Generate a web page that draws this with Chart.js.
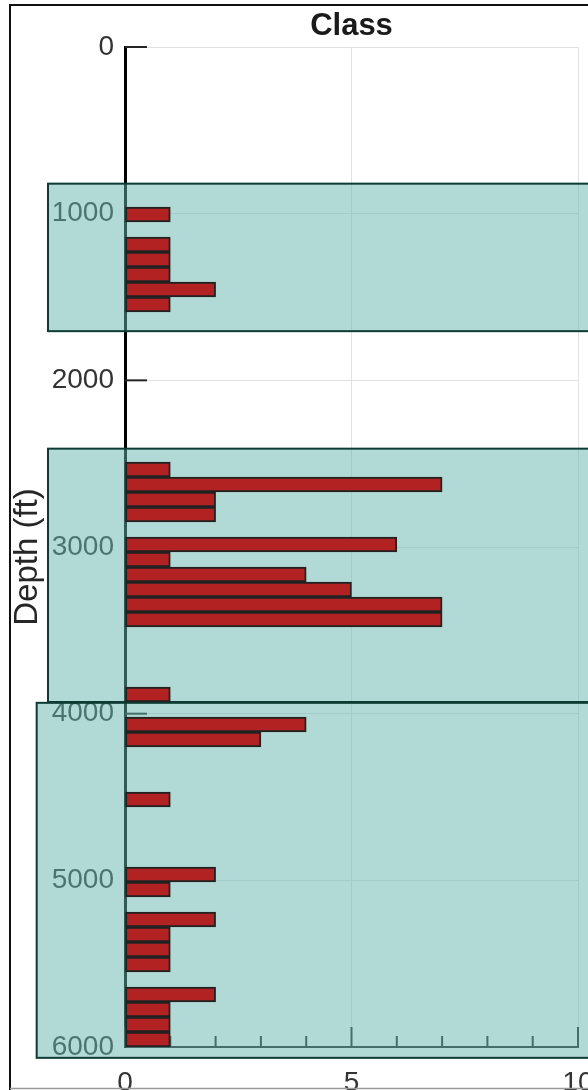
<!DOCTYPE html>
<html>
<head>
<meta charset="utf-8">
<script src="https://cdn.jsdelivr.net/npm/chart.js@4.4.1/dist/chart.umd.min.js"></script>
<style>
  html, body { margin: 0; padding: 0; background: #fff; }
  canvas { display: block; }
</style>
</head>
<body>
<canvas id="depthChart" width="588" height="1090"></canvas>
<script>
// histogram: bin centre depth (ft) and count per bin
const depthBins = [1005, 1185, 1275, 1365, 1455, 1545,
  2535, 2625, 2715, 2805, 2985, 3075, 3165, 3255, 3345, 3435,
  3885, 4065, 4155, 4515, 4965, 5055, 5235, 5325, 5415, 5505,
  5685, 5775, 5865, 5955];
const classCounts = [1, 1, 1, 1, 2, 1,
  1, 7, 2, 2, 6, 1, 4, 5, 7, 7,
  1, 4, 3, 1, 2, 1, 2, 1, 1, 1,
  2, 1, 1, 1];

const depthTicks = [0, 1000, 2000, 3000, 4000, 5000, 6000];
const classTicks = [0, 5, 10];
const classMinorTicks = [1, 2, 3, 4, 6, 7, 8, 9];

// shaded depth intervals (depth in ft, class units for the sides)
const zoneTop = [820, 2410, 3935];
const zoneBottom = [1705, 3930, 6065];
const zoneLeft = [-1.7, -1.7, -1.95];
const zoneRight = [11, 11, 11];

const FONT = "'Liberation Sans', Arial, Helvetica, sans-serif";

const decorations = {
  id: "decorations",
  beforeDatasetsDraw(chart) {
    const { ctx, scales: { x, y } } = chart;
    const x0 = x.getPixelForValue(0);
    const yb = y.getPixelForValue(6000);
    ctx.save();
    ctx.strokeStyle = "#262626";
    ctx.lineWidth = 2;
    // inward ticks on the depth axis
    depthTicks.slice(0, -1).forEach(d => {
      const py = y.getPixelForValue(d);
      ctx.beginPath();
      ctx.moveTo(x0, py);
      ctx.lineTo(x0 + 22, py);
      ctx.stroke();
    });
    // inward ticks on the class axis
    classTicks.forEach(v => {
      const px = x.getPixelForValue(v);
      ctx.beginPath();
      ctx.moveTo(px, yb);
      ctx.lineTo(px, yb - 20);
      ctx.stroke();
    });
    classMinorTicks.forEach(v => {
      const px = x.getPixelForValue(v);
      ctx.beginPath();
      ctx.moveTo(px, yb);
      ctx.lineTo(px, yb - 11);
      ctx.stroke();
    });

    // shaded zones
    ctx.fillStyle = "rgba(100, 180, 172, 0.5)";
    ctx.strokeStyle = "#0e3b34";
    ctx.lineWidth = 2;
    zoneTop.forEach((t, i) => {
      const left = x.getPixelForValue(zoneLeft[i]);
      const right = x.getPixelForValue(zoneRight[i]);
      const top = y.getPixelForValue(t);
      const bottom = y.getPixelForValue(zoneBottom[i]);
      ctx.fillRect(left, top, right - left, bottom - top);
      ctx.strokeRect(left, top, right - left, bottom - top);
    });
    ctx.restore();
  },
  afterDraw(chart) {
    const { ctx, chartArea } = chart;
    ctx.save();
    // title
    ctx.fillStyle = "#1a1a1a";
    ctx.font = "bold 31px " + FONT;
    ctx.textAlign = "center";
    ctx.textBaseline = "alphabetic";
    ctx.fillText("Class", (chartArea.left + chartArea.right) / 2, 35);
    // y label
    ctx.fillStyle = "#262626";
    ctx.font = "33px " + FONT;
    ctx.translate(37, 557);
    ctx.rotate(-Math.PI / 2);
    ctx.fillText("Depth (ft)", 0, 0);
    ctx.restore();

    // figure frame
    ctx.save();
    ctx.strokeStyle = "#111";
    ctx.lineWidth = 2;
    ctx.beginPath();
    ctx.moveTo(10, 1090);
    ctx.lineTo(10, 5);
    ctx.lineTo(600, 5);
    ctx.stroke();
    ctx.strokeStyle = "#999";
    ctx.lineWidth = 1.5;
    ctx.beginPath();
    ctx.moveTo(10, 1088.5);
    ctx.lineTo(600, 1088.5);
    ctx.stroke();
    ctx.restore();
  }
};

new Chart(document.getElementById("depthChart"), {
  type: "bar",
  data: {
    datasets: [{
      data: depthBins.map((d, i) => ({ x: classCounts[i], y: d })),
      backgroundColor: "#b22222",
      borderColor: "#222",
      borderWidth: 2,
      borderSkipped: false,
      barPercentage: 1,
      categoryPercentage: 1
    }]
  },
  options: {
    indexAxis: "y",
    responsive: false,
    animation: false,
    devicePixelRatio: 1,
    layout: { padding: { left: 0, right: 10, top: 47, bottom: 0 } },
    plugins: {
      legend: { display: false },
      tooltip: { enabled: false }
    },
    scales: {
      x: {
        type: "linear",
        position: "bottom",
        min: 0,
        max: 10,
        afterBuildTicks: s => { s.ticks = classTicks.map(v => ({ value: v })); },
        ticks: {
          font: { family: FONT, size: 28 },
          color: "#333",
          padding: 19,
          maxRotation: 0,
          autoSkip: false
        },
        grid: { color: "#e2e2e2", drawTicks: false },
        border: { color: "#262626", width: 2 },
        afterFit: s => { s.height = 43; s.paddingLeft = 0; s.paddingRight = 0; }
      },
      y: {
        type: "linear",
        reverse: true,
        min: 0,
        max: 6000,
        offset: false,
        afterBuildTicks: s => { s.ticks = depthTicks.map(v => ({ value: v })); },
        ticks: {
          font: { family: FONT, size: 28 },
          color: "#333",
          padding: 11,
          autoSkip: false,
          callback: v => String(v)
        },
        grid: { color: "#e2e2e2", drawTicks: false, offset: false },
        border: { color: "#000", width: 3 },
        afterFit: s => { s.width = 125; s.paddingTop = 0; s.paddingBottom = 0; }
      }
    }
  },
  plugins: [decorations]
});
</script>
</body>
</html>
